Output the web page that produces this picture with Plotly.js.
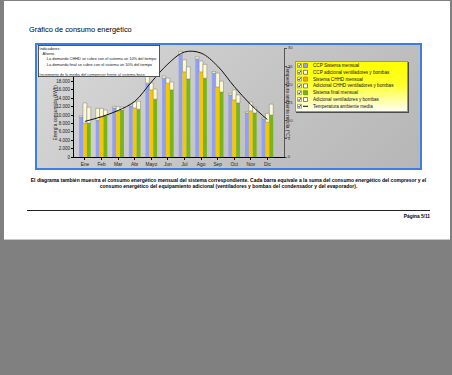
<!DOCTYPE html>
<html>
<head>
<meta charset="utf-8">
<script src="https://cdn.plot.ly/plotly-3.0.1.min.js"></script>
<style>
  html, body { margin: 0; padding: 0; }
  body { width: 452px; height: 375px; background: #808080; position: relative; overflow: hidden;
         font-family: "Liberation Sans", Arial, sans-serif; }
  #page { position: absolute; left: 4px; top: 1px; width: 446px; height: 238px; background: #fff;
          border-bottom: 1px solid #c8c8c8; }
  #doc-title { position: absolute; left: 29px; top: 25px; font-size: 7.4px; color: #000; white-space: nowrap; }
  #chart-box { position: absolute; left: 35px; top: 43px; width: 387px; height: 127px; box-sizing: border-box;
               border: 2px solid #3a7fe3; background: linear-gradient(135deg, #d9d9d9 0%, #c4c4c4 55%, #b6b6b6 100%); }
  #legend-bg { position: absolute; left: 258px; top: 16px; width: 111px; height: 49px;
               background: linear-gradient(to bottom, #ffff00 0%, #ffff2a 45%, #fffff4 100%);
               border: 1px solid #9a9a6a; box-shadow: 1px 1px 0 #4a4a4a; }
  #chart { position: absolute; left: 0; top: 0; width: 383px; height: 123px; }
  #caption { position: absolute; left: 27px; top: 177px; width: 403px; text-align: center; font-size: 5px;
             font-weight: bold; line-height: 6px; color: #000; white-space: nowrap; }
  #rule { position: absolute; left: 27px; top: 210px; width: 403px; height: 1px; background: #222; }
  #pageno { position: absolute; right: 22px; top: 214px; font-size: 4.8px; font-weight: bold; color: #000; }
</style>
</head>
<body>
<div id="page"></div>
<div id="doc-title">Gráfico de consumo energético</div>
<div id="chart-box">
  <div id="legend-bg"></div>
  <div id="chart"></div>
</div>
<div id="caption">El diagrama también muestra el consumo energético mensual del sistema correspondiente. Cada barra equivale a la suma del consumo energético del compresor y el<br>consumo energético del equipamiento adicional (ventiladores y bombas del condensador y del evaporador).</div>
<div id="rule"></div>
<div id="pageno">Página 5/11</div>

<script>
// Monthly energy use (kWh) per system: compressor part and auxiliary (fans & pumps) part
const months = ['Ene', 'Feb', 'Mar', 'Abr', 'Mayo', 'Jun', 'Jul', 'Ago', 'Sep', 'Oct', 'Nov', 'Dic'];
const ccpSistema   = [9500, 8800, 11700, 12200, 17600, 18800, 24400, 23400, 20000, 14800, 10500, 9100];
const ccpAdicional = [300, 2800, 400, 400, 1600, 500, 800, 500, 400, 400, 300, 300];
const chhdSistema   = [8100, 9500, 11000, 11700, 16000, 17600, 20300, 20300, 16700, 13600, 11000, 8300];
const chhdAdicional = [4800, 2100, 1000, 1400, 1700, 1200, 2900, 2600, 3300, 2400, 2100, 2100];
const finalSistema   = [8100, 9800, 11200, 11400, 13800, 16000, 18600, 18800, 15500, 12900, 10500, 10000];
const finalAdicional = [3800, 1400, 700, 1900, 2400, 1900, 2900, 3300, 2600, 1900, 1400, 2600];
// Mean outdoor temperature (°C)
const temperatura = [9.8, 11.1, 12.8, 15.3, 20.6, 25.6, 28.9, 28.6, 25.0, 19.4, 14.4, 10.3];
// Energy axis labels shown below the note box
const energiaTicks = [0, 2000, 4000, 6000, 8000, 10000, 12000, 14000, 16000, 18000];

const seriesNames = [
  'CCP Sistema mensual',
  'CCP adicional ventiladores y bombas',
  'Sistema CHHD mensual',
  'Adicional CHHD ventiladores y bombas',
  'Sistema final mensual',
  'Adicional ventiladores y bombas',
  'Temperatura ambiente media'
];

const COL_BLUE = '#8fa0f5', COL_YEL = '#f7c600', COL_GRN = '#78b41e', COL_CREAM = '#fcf9d4';

function stackPair(sys, add, group, color, i) {
  return [
    { type: 'bar', x: months, y: sys, offsetgroup: group, name: seriesNames[i],
      marker: { color: color, line: { width: 0 } }, hoverinfo: 'skip' },
    { type: 'bar', x: months, y: add, base: sys, offsetgroup: group, name: seriesNames[i + 1],
      marker: { color: COL_CREAM, line: { color: '#6a6a6a', width: 0.4 } }, hoverinfo: 'skip' }
  ];
}

const traces = [].concat(
  stackPair(ccpSistema, ccpAdicional, 'ccp', COL_BLUE, 0),
  stackPair(chhdSistema, chhdAdicional, 'chhd', COL_YEL, 2),
  stackPair(finalSistema, finalAdicional, 'final', COL_GRN, 4),
  [{ type: 'scatter', mode: 'lines', x: months, y: temperatura, yaxis: 'y2', name: seriesNames[6],
     line: { color: '#111', width: 1, shape: 'spline' }, hoverinfo: 'skip' }]
);

// figure geometry (px) used to place the in-chart legend and notes
const W = 383, H = 123, M = { l: 37, r: 136, t: 3, b: 11 };
const PW = W - M.l - M.r, PH = H - M.t - M.b;
const px = fx => (fx - M.l) / PW;
const py = fy => (H - M.b - fy) / PH;

const FONT = '"Liberation Sans", Arial, sans-serif';
const shapes = [];
const annotations = [];

// legend rows: checkbox, swatch, label
const swatches = [
  { fill: COL_BLUE, line: '#4a5fb0' }, { fill: '#ffffff', line: '#333' },
  { fill: '#f5a800', line: '#a07000' }, { fill: '#ffffff', line: '#333' },
  { fill: COL_GRN, line: '#4d7a10' }, { fill: '#ffffff', line: '#333' },
  { line: '#111', isLine: true }
];
swatches.forEach((s, i) => {
  const cy = 20.5 + i * 6.8;
  shapes.push({ type: 'rect', xref: 'paper', yref: 'paper', x0: px(260.5), x1: px(264.5), y0: py(cy + 2), y1: py(cy - 2),
                fillcolor: '#fff', line: { color: '#555', width: 0.5 } });
  shapes.push({ type: 'path', xref: 'paper', yref: 'paper',
                path: `M${px(261.3)},${py(cy)} L${px(262.2)},${py(cy + 1.2)} L${px(263.8)},${py(cy - 1.4)}`,
                line: { color: '#000', width: 0.7 } });
  if (s.isLine) {
    shapes.push({ type: 'line', xref: 'paper', yref: 'paper', x0: px(266), x1: px(271), y0: py(cy), y1: py(cy),
                  line: { color: s.line, width: 1 } });
  } else {
    shapes.push({ type: 'rect', xref: 'paper', yref: 'paper', x0: px(266.5), x1: px(270.5), y0: py(cy + 2), y1: py(cy - 2),
                  fillcolor: s.fill, line: { color: s.line, width: 0.6 } });
  }
  annotations.push({ xref: 'paper', yref: 'paper', x: px(273.5), y: py(cy), xanchor: 'left', yanchor: 'middle',
                     text: seriesNames[i], showarrow: false, font: { family: FONT, size: 4.6, color: '#111' } });
});

// note box at the top left of the chart
const nb = '\u00a0';
annotations.push({
  xref: 'paper', yref: 'paper', x: px(1), y: py(0), xanchor: 'left', yanchor: 'top',
  width: 119, height: 29.5, align: 'left', valign: 'top', showarrow: false,
  bgcolor: '#ffffff', bordercolor: '#333', borderwidth: 0.8, borderpad: 0.5,
  font: { family: FONT, size: 3.9, color: '#111' },
  text: 'Indicadores:<br>' + nb.repeat(3) + 'Ahorro<br>' +
        nb.repeat(7) + 'La demanda CHHD se cubre con el sistema un 10% del tiempo<br>' +
        nb.repeat(7) + 'La demanda final se cubre con el sistema un 10% del tiempo<br><br>' +
        'Incremento de la media del compresor frente al sistema base'
});

// axis titles
annotations.push({ xref: 'paper', yref: 'paper', x: px(13), y: py(68), textangle: -90, showarrow: false,
                   text: 'Energía consumida (kWh)', font: { family: FONT, size: 4.8, color: '#222' } });
annotations.push({ xref: 'paper', yref: 'paper', x: px(255), y: 0.5, textangle: 90, showarrow: false,
                   text: 'Temperatura ambiente media (°C)', font: { family: FONT, size: 4.8, color: '#222' } });

const layout = {
  width: W, height: H, margin: M,
  paper_bgcolor: 'rgba(0,0,0,0)', plot_bgcolor: 'rgba(0,0,0,0)',
  font: { family: FONT, size: 5, color: '#222' },
  separators: ',.',
  showlegend: false,
  barmode: 'group', bargap: 0.3, bargroupgap: 0,
  xaxis: { type: 'category', range: [-0.66, 12.0], showline: true, linecolor: '#000', linewidth: 1,
           ticks: 'outside', ticklen: 2, tickcolor: '#000', showgrid: false, zeroline: false,
           tickfont: { size: 4.8, color: '#222' } },
  yaxis: { range: [0, 26000], tickmode: 'array', tickvals: energiaTicks, tickformat: ',d',
           showline: true, linecolor: '#000', linewidth: 1,
           ticks: 'outside', ticklen: 2, tickcolor: '#000', showgrid: false, zeroline: false,
           tickfont: { size: 4.5, color: '#222' } },
  yaxis2: { overlaying: 'y', side: 'right', range: [0, 30], dtick: 5, showline: true, linecolor: '#555',
            ticks: 'outside', ticklen: 2, tickcolor: '#555', showgrid: false, zeroline: false,
            tickfont: { size: 4.2, color: '#333' } },
  shapes: shapes,
  annotations: annotations
};

Plotly.newPlot('chart', traces, layout, { staticPlot: true, displayModeBar: false });
</script>
</body>
</html>
